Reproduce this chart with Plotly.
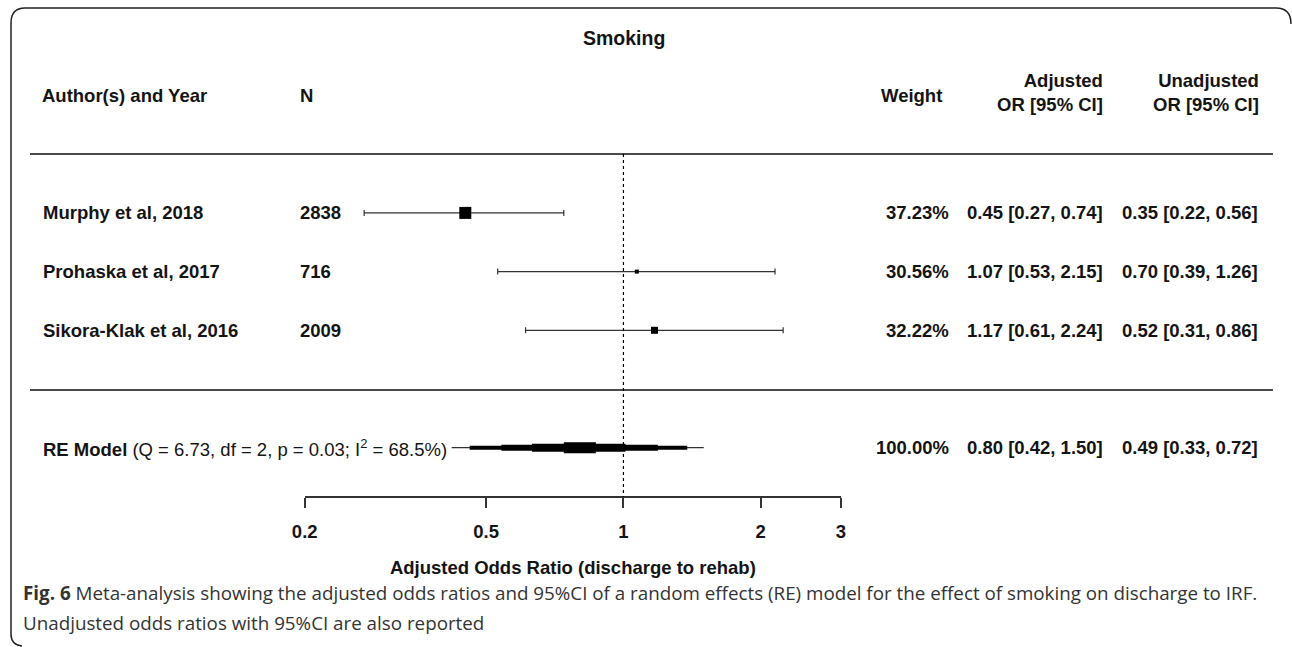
import math
import plotly.graph_objects as go

# ---------------- data ----------------
studies = ["Murphy et al, 2018", "Prohaska et al, 2017", "Sikora-Klak et al, 2016"]
n_patients = [2838, 716, 2009]
weights = [37.23, 30.56, 32.22]
adj_or = [0.45, 1.07, 1.17]
adj_lo = [0.27, 0.53, 0.61]
adj_hi = [0.74, 2.15, 2.24]
unadj_or = [0.35, 0.70, 0.52]
unadj_lo = [0.22, 0.39, 0.31]
unadj_hi = [0.56, 1.26, 0.86]

re_weight = 100.00
re_or = 0.80
re_lo = 0.42
re_hi = 1.50
re_unadj_or = 0.49
re_unadj_lo = 0.33
re_unadj_hi = 0.72
re_q = 6.73
re_df = 2
re_p = 0.03
re_i2 = 68.5

# nested intervals of the summary bar (outer -> inner)
band_lo = [0.42, 0.46, 0.54, 0.63, 0.74]
band_hi = [1.50, 1.38, 1.19, 1.01, 0.87]

tick_vals = [0.2, 0.5, 1, 2, 3]
tick_text = ["0.2", "0.5", "1", "2", "3"]
null_value = 1

title_text = "Smoking"
axis_title = "Adjusted Odds Ratio (discharge to rehab)"
caption_1 = ("<b>Fig. 6</b> Meta-analysis showing the adjusted odds ratios and 95%CI of a random "
             "effects (RE) model for the effect of smoking on discharge to IRF.")
caption_2 = "Unadjusted odds ratios with 95%CI are also reported"

# ---------------- styles / layout helpers ----------------
W, H = 1292, 647
FONT = "Liberation Sans, Arial, sans-serif"
FS = 18.5
TXT = "#141414"
marker_px = [12, 4, 7]
band_widths = [1.2, 4, 6, 8, 11]


def px(x):
    return x / W


def py(y):
    return 1 - y / H


k = len(studies)
rows = list(range(k, 0, -1))     # 3, 2, 1
re_row = -1
row_h = 58.7
row0_px = 389.0                  # pixel position of row 0
y_top = row0_px / row_h
y_bot = (row0_px - H) / row_h


def fmt_ci(o, l, h):
    return f"{o:.2f} [{l:.2f}, {h:.2f}]"


fig = go.Figure()

# study estimates with CIs
fig.add_trace(go.Scatter(
    x=adj_or, y=rows, mode="markers",
    marker=dict(symbol="square", size=marker_px, color="black", opacity=1,
                line=dict(width=0)),
    error_x=dict(type="data", symmetric=False,
                 array=[h - o for o, h in zip(adj_or, adj_hi)],
                 arrayminus=[o - l for o, l in zip(adj_or, adj_lo)],
                 color="#333333", thickness=1.2, width=3),
    hoverinfo="skip", showlegend=False, cliponaxis=False,
))

# summary (RE model) nested bars
for lo, hi, lw in zip(band_lo, band_hi, band_widths):
    fig.add_trace(go.Scatter(
        x=[lo, hi], y=[re_row, re_row], mode="lines",
        line=dict(color="black" if lw > 2 else "#333333", width=lw),
        hoverinfo="skip", showlegend=False, cliponaxis=False,
    ))

ann = []


def add_text(text, x, y, xanchor="left", yref="paper", bold=True, size=FS, color=TXT,
             family=FONT, align="left"):
    ann.append(dict(text=text, x=x, y=y, xref="paper", yref=yref, xanchor=xanchor,
                    yanchor="middle", showarrow=False, align=align,
                    font=dict(family=family, size=size, color=color,
                              weight="bold" if bold else "normal")))


# title and headers
add_text(title_text, px(623.5), py(38), xanchor="center", size=19.5)
add_text("Author(s) and Year", px(40), py(96))
add_text("N", px(297.5), py(96))
add_text("Weight", px(944), py(96), xanchor="right")
add_text("Adjusted<br>OR [95% CI]", px(1105), py(93), xanchor="right", align="right")
add_text("Unadjusted<br>OR [95% CI]", px(1260.5), py(93), xanchor="right", align="right")

# study rows
for i, r in enumerate(rows):
    add_text(studies[i], px(40.5), r, yref="y")
    add_text(str(n_patients[i]), px(298), r, yref="y")
    add_text(f"{weights[i]:.2f}%", px(951.5), r, xanchor="right", yref="y")
    add_text(fmt_ci(adj_or[i], adj_lo[i], adj_hi[i]), px(1105), r, xanchor="right", yref="y")
    add_text(fmt_ci(unadj_or[i], unadj_lo[i], unadj_hi[i]), px(1259.5), r, xanchor="right", yref="y")

# RE model row
re_label = (f"<b>RE Model</b> (Q = {re_q:.2f}, df = {re_df}, p = {re_p:.2f}; "
            f"I<sup>2</sup> = {re_i2:.1f}%)")
add_text(re_label, px(40.5), re_row, yref="y", bold=False)
add_text(f"{re_weight:.2f}%", px(951.5), re_row, xanchor="right", yref="y")
add_text(fmt_ci(re_or, re_lo, re_hi), px(1105), re_row, xanchor="right", yref="y")
add_text(fmt_ci(re_unadj_or, re_unadj_lo, re_unadj_hi), px(1259.5), re_row, xanchor="right", yref="y")

# caption
CAP_FONT = "Open Sans, Noto Sans, sans-serif"
add_text(caption_1, px(21), py(593), bold=False, size=18.8, color="#333333", family=CAP_FONT)
add_text(caption_2, px(21), py(623), bold=False, size=18.8, color="#333333", family=CAP_FONT)

# shapes: rules, null line, frame
shapes = [
    dict(type="line", xref="paper", yref="paper", x0=px(30), x1=px(1273), y0=py(154), y1=py(154),
         line=dict(color="#4a4a4a", width=2)),
    dict(type="line", xref="paper", yref="paper", x0=px(30), x1=px(1273), y0=py(390), y1=py(390),
         line=dict(color="#4a4a4a", width=2)),
    dict(type="line", xref="x", yref="paper", x0=null_value, x1=null_value, y0=py(154), y1=py(497),
         line=dict(color="black", width=1.2, dash="dot")),
    dict(type="path", xref="paper", yref="paper",
         path=(f"M {px(1291)} {py(24)} Q {px(1291)} {py(8)} {px(1276)} {py(8)} "
               f"L {px(25)} {py(8)} Q {px(11)} {py(8)} {px(11)} {py(23)} "
               f"L {px(11)} {py(634)} Q {px(11)} {py(645)} {px(22)} {py(646)}"),
         line=dict(color="#222222", width=1.5)),
]

x_dom = [px(304.7), px(841)]
fig.update_layout(
    width=W, height=H,
    margin=dict(l=0, r=0, t=0, b=0),
    paper_bgcolor="white", plot_bgcolor="white",
    showlegend=False,
    annotations=ann,
    shapes=shapes,
    xaxis=dict(
        type="log", domain=x_dom,
        range=[math.log10(tick_vals[0]), math.log10(tick_vals[-1])],
        anchor="free", position=py(497),
        showline=True, linecolor="#333333", linewidth=1.5,
        showgrid=False, zeroline=False,
        ticks="outside", ticklen=10, tickwidth=1.5, tickcolor="#333333",
        tickvals=tick_vals, ticktext=tick_text,
        tickfont=dict(family=FONT, size=FS, color=TXT, weight="bold"),
        ticklabelstandoff=8,
        title=dict(text=axis_title, standoff=19,
                   font=dict(family=FONT, size=FS, color=TXT, weight="bold")),
        automargin=False, fixedrange=True,
    ),
    yaxis=dict(
        range=[y_bot, y_top], domain=[0, 1], visible=False,
        showgrid=False, zeroline=False, fixedrange=True,
    ),
)

fig.write_html("out.html", post_script="document.body.style.margin='0';",
               config={"displayModeBar": False})
